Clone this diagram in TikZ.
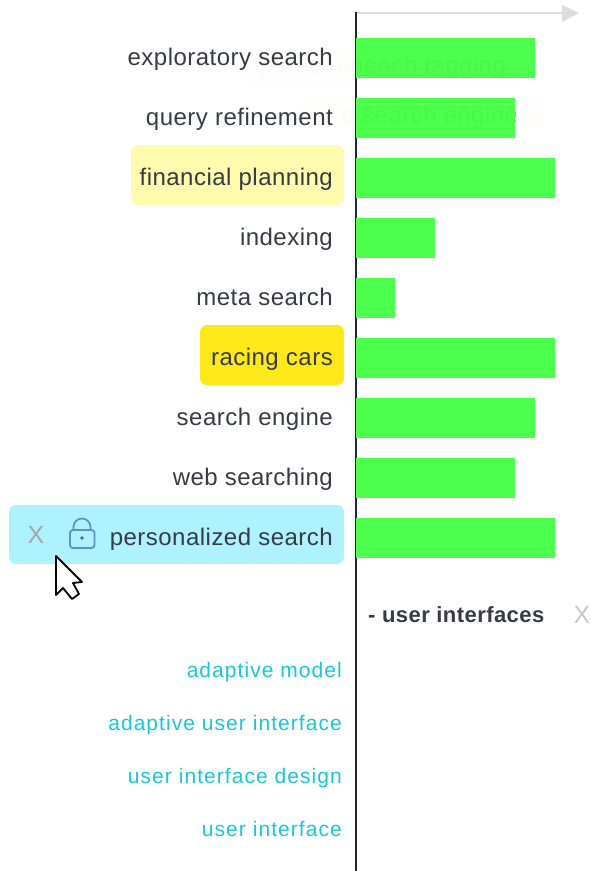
\documentclass[tikz,border=0pt]{standalone}
\usepackage{fontspec}
\setmainfont{Liberation Sans}
\newfontfamily\termfont[LetterSpace=2]{Liberation Sans}
\newfontfamily\tagfont[LetterSpace=5]{Liberation Sans}
\newfontfamily\sidefont[LetterSpace=2]{Liberation Sans}
\definecolor{barg}{HTML}{4CFF4C}
\definecolor{lab}{HTML}{363B44}
\definecolor{cyanlab}{HTML}{18C8D6}
\definecolor{pale}{HTML}{FFFBAE}
\definecolor{gold}{HTML}{FFE81A}
\definecolor{sky}{HTML}{AEF1FF}
\definecolor{axisg}{HTML}{DDDDDD}
\definecolor{lockc}{HTML}{5F90C8}
\definecolor{ghostbox}{HTML}{FFFEFD}
\definecolor{ghostw}{HTML}{FBFAFA}
\definecolor{ghostg}{HTML}{48F848}
\tikzset{
 term/.style={anchor=base east,inner sep=0pt,text=lab,font=\termfont\fontsize{24}{26}\selectfont},
 tag/.style={anchor=base east,inner sep=0pt,text=cyanlab,font=\tagfont\fontsize{21}{24}\selectfont},
 barbox/.style={fill=barg,draw=none,anchor=west,inner sep=0pt,minimum height=40pt},
 ghost/.style={anchor=base,inner sep=0pt,font=\termfont\fontsize{24}{26}\selectfont},
}
\begin{document}
\begin{tikzpicture}[x=1pt,y=-1pt]
\useasboundingbox (0,0) rectangle (590,871);
% highlights
\fill[pale,rounded corners=7pt] (131,145) rectangle (344,205);
\fill[gold,rounded corners=7pt] (200,325) rectangle (344,385);
\fill[sky,rounded corners=7pt] (9,505) rectangle (344,564);
% ghost boxes and text
\fill[ghostbox,rounded corners=8pt] (242,50) rectangle (520,83);
\fill[ghostbox,rounded corners=8pt] (300,100) rectangle (543,128);
\node[ghost,text=ghostw] (g1) at (383,73) {part of speech tagging};
\node[ghost,text=ghostw] (g2) at (430,123) {e search engine};
% axes
\draw[axisg,line width=1.4pt] (356,13) coordinate (o) -- (563,13) coordinate (xe);
\fill[axisg] (562,5) -- (579,13) -- (562,22) -- cycle;
\draw[black!85,line width=1.6pt] (356,12) -- (356,871);
% bars
\foreach \n/\y/\w in {a/58/179,b/118/159,c/178/199,d/238/79,e/298/39,f/358/199,g/418/179,h/478/159,i/538/199}{
  \node[barbox,minimum width=\w pt] (bar\n) at (356,\y) {};
}
% ghost text seen through the bars
\begin{scope}
\clip (356,38) rectangle (535,78);
\node[ghost,text=ghostg] (g3) at (383,73) {part of speech tagging};
\end{scope}
\begin{scope}
\clip (356,98) rectangle (515,138);
\node[ghost,text=ghostg] (g4) at (430,123) {e search engine};
\end{scope}
% labels
\node[term] (ta) at (333,65) {exploratory search};
\node[term] (tb) at (333,125) {query refinement};
\node[term] (tc) at (333,185) {financial planning};
\node[term] (td) at (333,245) {indexing};
\node[term] (te) at (333,305) {meta search};
\node[term] (tf) at (333,365) {racing cars};
\node[term] (tg) at (333,425) {search engine};
\node[term] (th) at (333,485) {web searching};
\node[term] (ti) at (333,545) {personalized search};
\node[anchor=center,inner sep=0pt,text=black!35,font=\fontsize{25}{28}\selectfont] (xa) at (36,535) {X};
% lock
\draw[lockc,line width=1.7pt] (73.5,530) -- (73.5,527) arc[start angle=180,end angle=360,radius=8.5] -- (90.5,530);
\draw[lockc,line width=1.8pt,rounded corners=3pt] (70,530) rectangle (94.5,548);
\fill[lockc!70!black] (82,538) circle (1.8pt);
% cursor
\draw[black,line width=1.8pt,fill=white,line join=round] (56,556) -- (56,595) -- (63,588) -- (72,599) -- (79,594) -- (73,583) -- (82,582) -- cycle;
% side
\node[anchor=base west,inner sep=0pt,text=lab,font=\sidefont\bfseries\fontsize{22}{26}\selectfont] (ui) at (368,622) {- user interfaces};
\node[anchor=center,inner sep=0pt,text=black!22,font=\fontsize{25}{28}\selectfont] (xb) at (582,615) {X};
% tags
\node[tag] (ca) at (342,677) {adaptive model};
\node[tag] (cb) at (342,730) {adaptive user interface};
\node[tag] (cc) at (342,783) {user interface design};
\node[tag] (cd) at (342,836) {user interface};
\end{tikzpicture}
\end{document}
